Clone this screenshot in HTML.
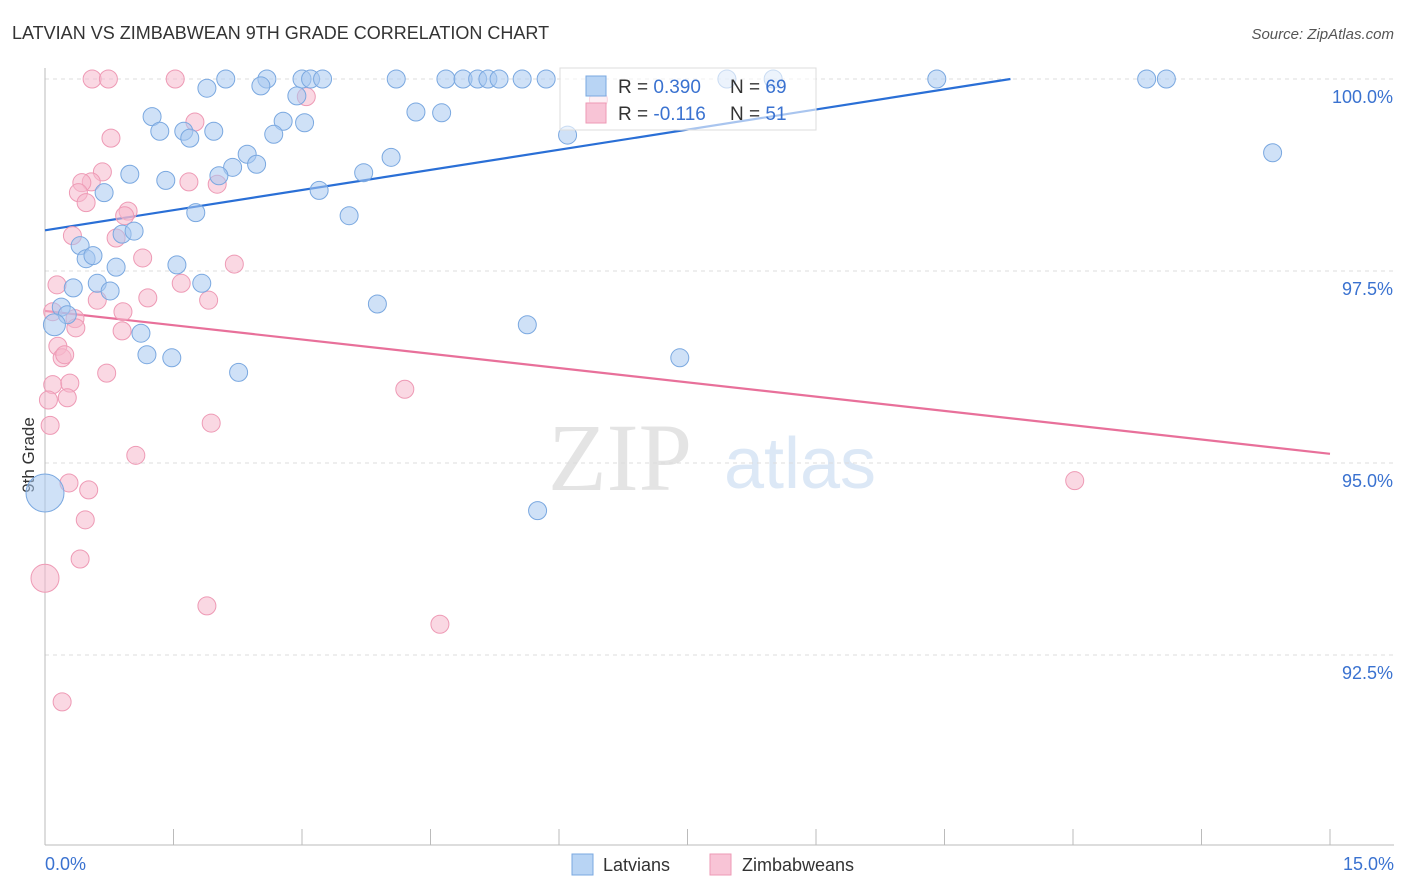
<!DOCTYPE html>
<html><head><meta charset="utf-8"><style>
body{margin:0;background:#fff;font-family:"Liberation Sans",sans-serif;}
svg{display:block}
</style></head><body>
<svg id="c" width="1406" height="892" xmlns="http://www.w3.org/2000/svg">
<text x="12" y="39" font-size="18" fill="#333">LATVIAN VS ZIMBABWEAN 9TH GRADE CORRELATION CHART</text>
<text x="1394" y="39" font-size="15" fill="#555" font-style="italic" text-anchor="end">Source: ZipAtlas.com</text>
<text x="620" y="490" font-size="96" fill="#e4e4e4" font-family="Liberation Serif,serif" text-anchor="middle">ZIP</text>
<text x="800" y="488" font-size="72" fill="#dce8f6" text-anchor="middle">atlas</text>
<text x="34" y="455" font-size="17" fill="#333" text-anchor="middle" transform="rotate(-90 34 455)">9th Grade</text>
<g id="grid"></g><g id="lines"></g><g id="pts"></g>
<text x="45" y="870" font-size="18" fill="#3a72d0">0.0%</text>
<text x="1394" y="870" font-size="18" fill="#3a72d0" text-anchor="end">15.0%</text>
<g>
<rect x="560" y="68" width="256" height="62" fill="#fff" fill-opacity="0.6" stroke="#ddd"/>
<rect x="586" y="76" width="20" height="20" fill="#b8d4f4" stroke="#7aa8e0"/>
<rect x="586" y="103" width="20" height="20" fill="#f8c4d6" stroke="#ee9ab5"/>
<text x="618" y="93" font-size="19" fill="#333">R = <tspan fill="#3a72d0">0.390</tspan><tspan x="730">N = </tspan><tspan fill="#3a72d0">69</tspan></text>
<text x="618" y="120" font-size="19" fill="#333">R = <tspan fill="#3a72d0">-0.116</tspan><tspan x="730">N = </tspan><tspan fill="#3a72d0">51</tspan></text>
</g>
<g>
<rect x="572" y="854" width="21" height="21" fill="#b8d4f4" stroke="#7aa8e0"/>
<text x="603" y="871" font-size="18" fill="#333">Latvians</text>
<rect x="710" y="854" width="21" height="21" fill="#f8c4d6" stroke="#ee9ab5"/>
<text x="742" y="871" font-size="18" fill="#333">Zimbabweans</text>
</g>
</svg>
<script>
const yTicks=[100,97.5,95,92.5];
const yTickLabels=["100.0%","97.5%","95.0%","92.5%"];
const xTicks=[0,1.5,3,4.5,6,7.5,9,10.5,12,13.5,15];
const blueX=[2.11,2.59,3.00,3.10,3.24,4.10,4.68,4.88,5.05,5.17,5.30,5.57,5.85,7.96,8.50,10.41,12.86,13.09,1.89,2.52,2.94,1.25,1.34,1.62,1.69,1.97,2.78,3.03,2.67,4.33,4.63,6.10,4.04,3.72,2.36,2.47,2.19,2.03,1.41,0.99,0.69,3.20,1.76,3.55,0.90,1.04,0.41,0.48,0.56,0.83,1.54,1.83,0.61,0.33,0.76,0.19,0.26,0.11,1.12,3.88,5.63,1.19,1.48,2.26,7.41,5.75,14.33,0];
const blueY=[100,100,100,100,100,100,100,100,100,100,100,100,100,100,100,100,100,100,99.88,99.91,99.78,99.51,99.32,99.32,99.23,99.32,99.45,99.43,99.28,99.57,99.56,99.27,98.98,98.78,99.02,98.89,98.85,98.74,98.68,98.76,98.52,98.55,98.26,98.22,97.98,98.02,97.83,97.66,97.70,97.55,97.58,97.34,97.34,97.28,97.24,97.03,96.93,96.80,96.69,97.07,96.80,96.41,96.37,96.18,96.37,94.38,99.04,94.61];
const blueR=[9,9,9,9,9,9,9,9,9,9,9,9,9,9,9,9,9,9,9,9,9,9,9,9,9,9,9,9,9,9,9,9,9,9,9,9,9,9,9,9,9,9,9,9,9,9,9,9,9,9,9,9,9,9,9,9,9,11,9,9,9,9,9,9,9,9,9,19];
const pinkX=[0.55,0.74,1.52,3.05,1.75,0.77,0.67,0.54,0.43,0.39,0.48,1.68,2.01,0.97,0.93,0.32,0.83,1.14,2.21,1.59,1.20,0.61,1.91,0.14,0.09,0.91,0.35,0.36,0.90,0.15,0.20,0.23,0.72,0.09,0.29,0.26,0.04,4.20,0.06,1.94,1.06,0.28,0.51,0.47,0.41,0.00,1.89,4.61,0.20,12.02,6.46];
const pinkY=[100,100,100,99.77,99.44,99.23,98.79,98.66,98.65,98.52,98.39,98.66,98.63,98.28,98.22,97.96,97.93,97.67,97.59,97.34,97.15,97.12,97.12,97.32,96.97,96.97,96.88,96.76,96.72,96.52,96.37,96.41,96.17,96.02,96.04,95.85,95.82,95.96,95.49,95.52,95.10,94.74,94.65,94.26,93.75,93.50,93.14,92.90,91.89,94.77,99.73];
const pinkR=pinkX.map((_,i)=>i===45?14:9);
const blueTrend=[98.03,0.1748];
const pinkTrend=[96.98,-0.124];
const X0=45,X1=1330,Y100=79,PX25=192;
const sx=v=>X0+(v/15)*(X1-X0);
const sy=v=>Y100+(100-v)/2.5*PX25;
const NS="http://www.w3.org/2000/svg";
function mk(tag,attrs,parent){const e=document.createElementNS(NS,tag);for(const k in attrs)e.setAttribute(k,attrs[k]);parent.appendChild(e);return e;}
const grid=document.getElementById('grid');
yTicks.forEach((t,i)=>{
 const l=mk('line',{x1:X0,x2:1394,y1:sy(t),y2:sy(t),stroke:'#ddd','stroke-dasharray':'4,4'},grid);
 
 
 const tx=mk('text',{x:1393,y:sy(t)+24,'font-size':18,fill:'#3a72d0','text-anchor':'end'},grid);
 tx.textContent=yTickLabels[i];
 
 
});
const ax=mk('line',{x1:X0,x2:X0,y1:68,y2:845,stroke:'#bbb'},grid);


const bx=mk('line',{x1:X0,x2:1394,y1:845,y2:845,stroke:'#bbb'},grid);


xTicks.forEach(t=>{
 const l=mk('line',{x1:sx(t),x2:sx(t),y1:829,y2:845,stroke:'#bbb'},grid);
 
 
});
const pts=document.getElementById('pts');
function drawPts(xs,ys,rs,fill,stroke,name){
 xs.forEach((x,i)=>{
  const c=mk('circle',{cx:sx(x),cy:sy(ys[i]),r:rs[i],fill:fill,'fill-opacity':0.55,stroke:stroke,'stroke-width':1},pts);
  
  
 });
}
drawPts(pinkX,pinkY,pinkR,'#f6b8cc','#ee9ab5','zimbabwean-point');
drawPts(blueX,blueY,blueR,'#a8c8f0','#7aa8e0','latvian-point');
const lines=document.getElementById('lines');
function trend(t,color,name){
 let xEnd=15,yEnd=t[0]+t[1]*15;
 if(yEnd>100){xEnd=(100-t[0])/t[1];yEnd=100;}
 const l=mk('line',{x1:sx(0),y1:sy(t[0]),x2:sx(xEnd),y2:sy(yEnd),stroke:color,'stroke-width':2.2},lines);
 
 
}
trend(blueTrend,'#2a6fd6','latvian-trend-line');
trend(pinkTrend,'#e8709a','zimbabwean-trend-line');
</script>
</body></html>
